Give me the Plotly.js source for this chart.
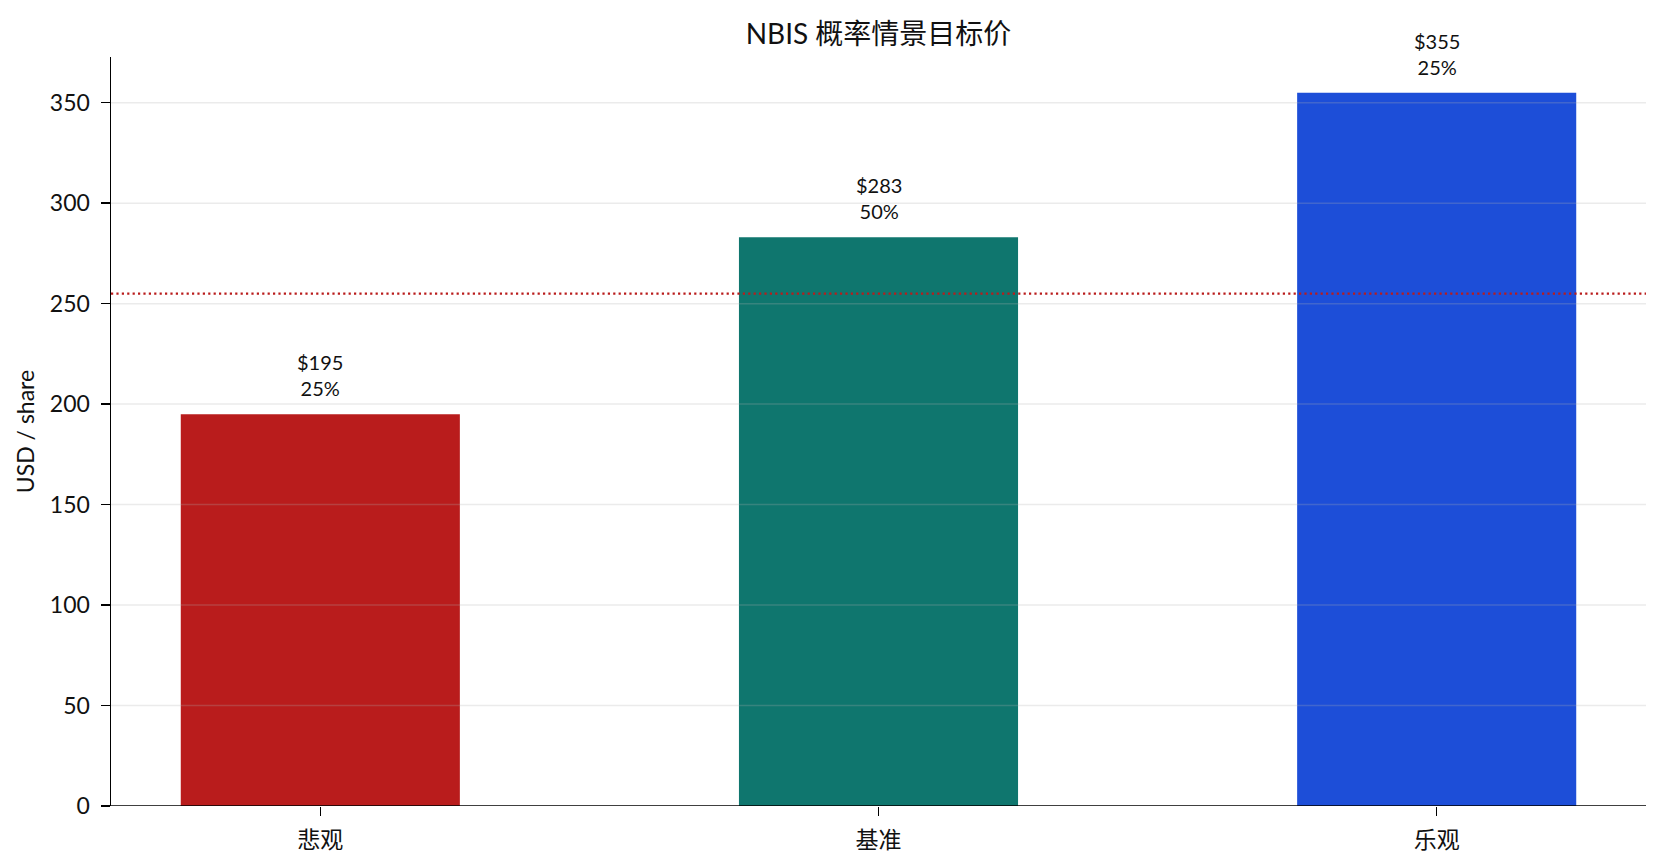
<!DOCTYPE html>
<html>
<head>
<meta charset="utf-8">
<script src="https://cdn.plot.ly/plotly-3.0.1.min.js"></script>
<style>
  html, body { margin: 0; padding: 0; background: #fff; }
  #chart { width: 1663px; height: 865px; }
</style>
</head>
<body>
<div id="chart"></div>
<script>
// scenario data
var scenarios = ["悲观", "基准", "乐观"];
var targetPrices = [195, 283, 355];
var probabilities = [25, 50, 25];
var barColors = ["#B91C1C", "#0F766E", "#1D4ED8"];
var currentPrice = 255;
var yTicks = [0, 50, 100, 150, 200, 250, 300, 350];

var FONT = "Lato, 'Noto Sans CJK SC', sans-serif";

var trace = {
  type: "bar",
  x: scenarios,
  y: targetPrices,
  width: 0.5,
  marker: { color: barColors, line: { width: 0 } },
  hoverinfo: "x+y",
};

// value + probability labels above each bar
var labels = scenarios.map(function (s, i) {
  return {
    x: s,
    y: targetPrices[i],
    text: "$" + targetPrices[i] + "<br>" + probabilities[i] + "%",
    showarrow: false,
    yanchor: "bottom",
    yshift: 12,
    font: { family: FONT, size: 20, color: "#111" },
  };
});

// gridlines drawn over bars (light, semi-transparent)
var grid = yTicks.slice(1).map(function (t) {
  return {
    type: "line", xref: "paper", x0: 0, x1: 1, yref: "y", y0: t, y1: t,
    line: { color: "rgba(176,176,176,0.25)", width: 1.5 },
    layer: "above",
  };
});

var refLine = {
  type: "line", xref: "paper", x0: 0, x1: 1, yref: "y", y0: currentPrice, y1: currentPrice,
  line: { color: "#B91C1C", width: 2.3, dash: "2.2px,3.2px" },
  layer: "above",
};

var layout = {
  width: 1663,
  height: 865,
  margin: { l: 111, r: 17, t: 57, b: 59 },
  paper_bgcolor: "#fff",
  plot_bgcolor: "#fff",
  font: { family: FONT, size: 23, color: "#111" },
  showlegend: false,
  title: {
    text: "NBIS 概率情景目标价",
    font: { family: FONT, size: 28, color: "#111" },
    x: 0.5, xref: "paper",
    y: 1 - 34 / 865, yref: "container", yanchor: "middle",
  },
  xaxis: {
    type: "category",
    range: [-0.375, 2.375],
    showgrid: false,
    zeroline: false,
    showline: false,
    ticks: "outside",
    ticklen: 9,
    tickwidth: 1.5,
    tickcolor: "#000",
    ticklabelstandoff: 4,
    tickfont: { family: FONT, size: 23, color: "#111" },
  },
  yaxis: {
    range: [0, 372.75],
    tickvals: yTicks,
    showgrid: false,
    zeroline: false,
    showline: true,
    linecolor: "#000",
    linewidth: 1.5,
    ticks: "outside",
    ticklen: 9,
    tickwidth: 1.5,
    tickcolor: "#000",
    ticklabelstandoff: 6,
    tickfont: { family: FONT, size: 23, color: "#111" },
    title: { text: "USD / share", font: { family: FONT, size: 23, color: "#111" }, standoff: 9 },
  },
  shapes: grid.concat([
    // bottom spine
    { type: "line", xref: "paper", x0: 0, x1: 1, yref: "y", y0: 0, y1: 0,
      line: { color: "#000", width: 1.5 }, layer: "above" },
    refLine,
  ]),
  annotations: labels,
  bargap: 0.5,
};

Plotly.newPlot("chart", [trace], layout, { displayModeBar: false, staticPlot: true });
</script>
</body>
</html>
